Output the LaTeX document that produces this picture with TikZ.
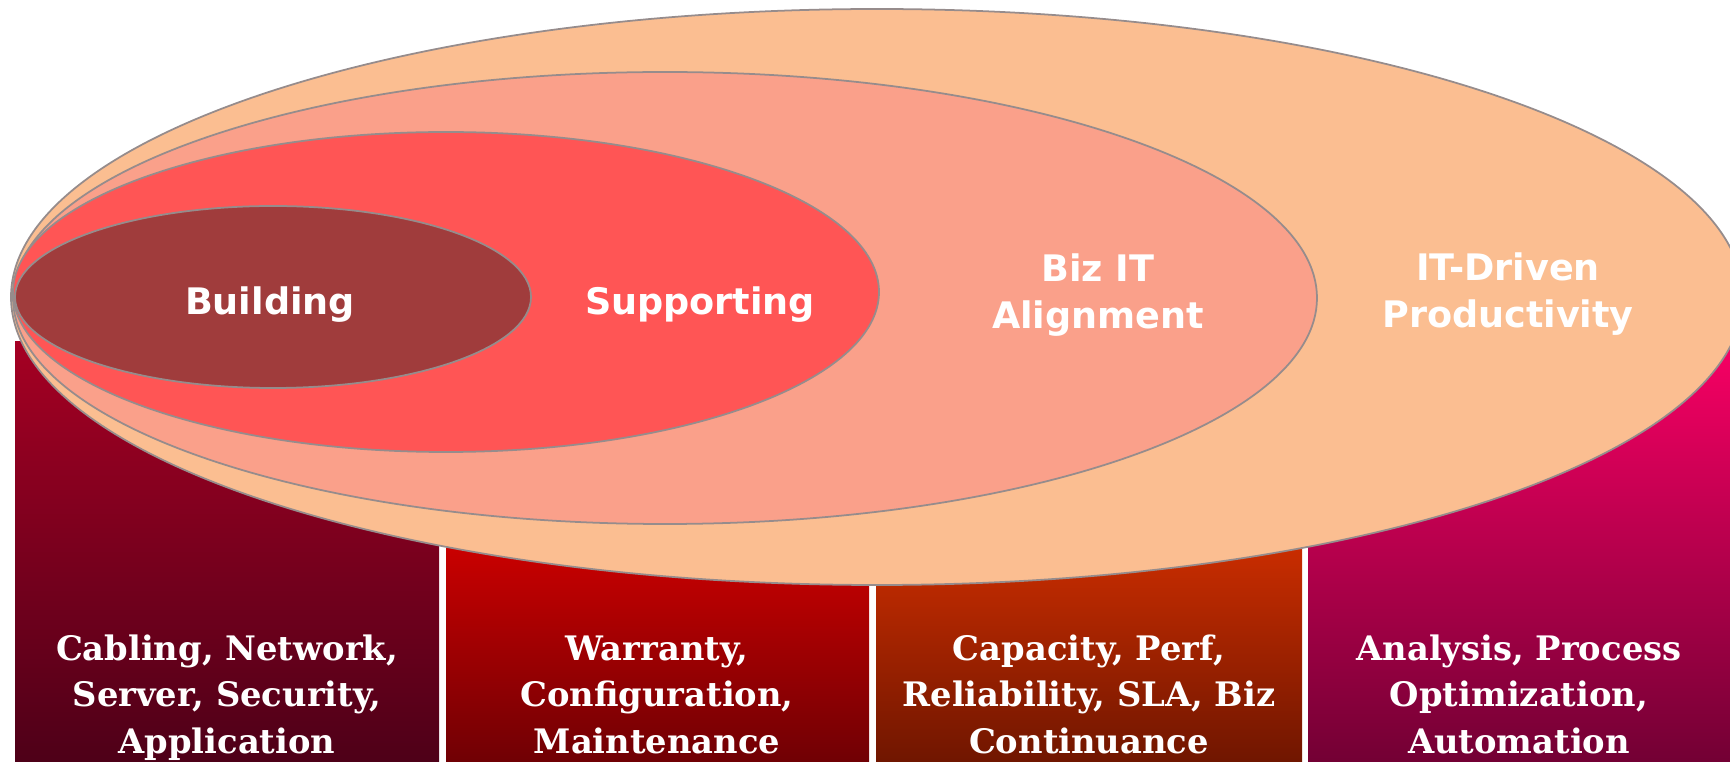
\documentclass[tikz,border=0pt]{standalone}
\usepackage{fontspec}
\newfontfamily\labsans{DejaVu Sans}
\newfontfamily\labserif{DejaVu Serif}
\definecolor{peach}{RGB}{251,190,145}
\definecolor{salmon}{RGB}{250,160,138}
\definecolor{redlite}{RGB}{255,85,85}
\definecolor{brick}{RGB}{160,60,60}
\definecolor{aTop}{RGB}{165,0,35}\definecolor{aBot}{RGB}{78,0,24}
\definecolor{bTop}{RGB}{202,0,0}\definecolor{bBot}{RGB}{112,0,4}
\definecolor{cTop}{RGB}{202,45,0}\definecolor{cBot}{RGB}{112,22,0}
\definecolor{dTop}{RGB}{248,0,100}\definecolor{dBot}{RGB}{115,0,52}
\definecolor{rim}{RGB}{150,140,140}
\tikzset{
  colbox/.style={draw=none},
  ring/.style={draw=rim, line width=0.5pt},
  ringlabel/.style={text=white, font=\labsans\bfseries\fontsize{10.4}{13.4}\selectfont, align=center, anchor=base, inner sep=0pt},
  boxlabel/.style={text=white, font=\labserif\bfseries\fontsize{9.6}{13.1}\selectfont, align=center, anchor=base, inner sep=0pt}
}
\begin{document}
\begin{tikzpicture}[x=0.1mm, y=-0.1mm]
\useasboundingbox (0,0) rectangle (1730,762);
\clip (0,0) rectangle (1730,762);
% column boxes
\path[colbox, top color=aTop, bottom color=aBot] (15,342) rectangle (439,762);
\path[colbox, fill=bTop] (446,342) rectangle (869,546);
\path[colbox, top color=bTop, bottom color=bBot] (446,545) rectangle (869,762);
\path[colbox, fill=cTop] (876,342) rectangle (1302,546);
\path[colbox, top color=cTop, bottom color=cBot] (876,545) rectangle (1302,762);
\path[colbox, top color=dTop, bottom color=dBot] (1308,342) rectangle (1740,762);
% nested ellipses
\path[ring, fill=peach] (877,297) ellipse [x radius=86.6mm, y radius=28.8mm];
\path[ring, fill=salmon] (665,298) ellipse [x radius=65.2mm, y radius=22.6mm];
\path[ring, fill=redlite] (446,292) ellipse [x radius=43.3mm, y radius=16.0mm];
\path[ring, fill=brick] (273,297) ellipse [x radius=25.8mm, y radius=9.1mm];
% ring labels
\node[ringlabel] (building) at (270,315) {Building};
\node[ringlabel] (supporting) at (700,315) {Supporting};
\node[ringlabel] (bizit) at (1098,329) {Biz IT\\Alignment};
\node[ringlabel] (itdriven) at (1508,328) {IT-Driven\\Productivity};
% box labels
\node[boxlabel] (infra) at (227,753) {Cabling, Network,\\Server, Security,\\Application};
\node[boxlabel] (maint) at (657,753) {Warranty,\\Configuration,\\Maintenance};
\node[boxlabel] (perf) at (1089,753) {Capacity, Perf,\\Reliability, SLA, Biz\\Continuance};
\node[boxlabel] (auto) at (1519,753) {Analysis, Process\\Optimization,\\Automation};
\end{tikzpicture}
\end{document}
